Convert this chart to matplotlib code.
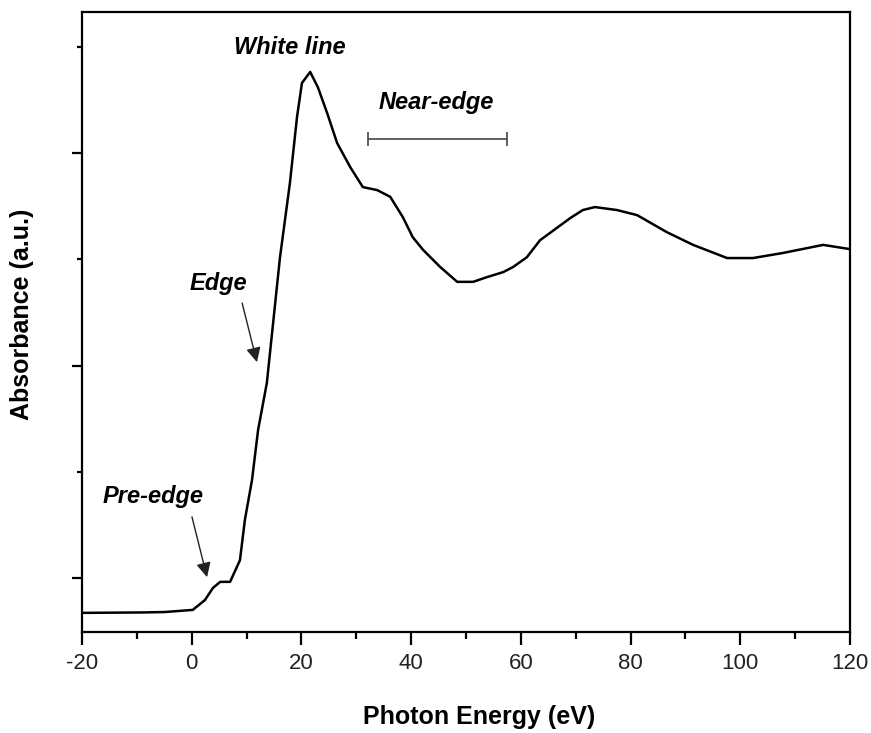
import matplotlib
matplotlib.use('Agg')
import matplotlib.pyplot as plt
from matplotlib.ticker import MultipleLocator, NullFormatter

plt.rcParams['font.family'] = ['Liberation Sans', 'DejaVu Sans']
plt.rcParams['axes.unicode_minus'] = False

# spectrum (energy in eV, absorbance in a.u.)
energy = [-20, -8.9, -4.9, 0.2, 2.4, 3.9, 5.2, 7.0, 8.8, 9.7, 11.0, 12.1, 13.7,
          16.1, 17.9, 19.2, 20.1, 21.6, 23.0, 24.7, 26.5, 28.9, 31.2, 33.8, 36.2,
          38.5, 40.3, 42.2, 45.3, 48.4, 51.3, 53.8, 56.8, 58.6, 61.1, 63.5, 65.3,
          69.0, 71.3, 73.5, 77.5, 81.2, 86.6, 91.4, 97.6, 102.3, 107.8, 115.1, 120]
absorb = [0.418, 0.419, 0.420, 0.425, 0.448, 0.477, 0.491, 0.491, 0.542, 0.637,
          0.731, 0.848, 0.959, 1.255, 1.429, 1.585, 1.665, 1.691, 1.655, 1.594,
          1.524, 1.467, 1.420, 1.413, 1.397, 1.349, 1.302, 1.272, 1.232, 1.197,
          1.197, 1.208, 1.220, 1.232, 1.255, 1.295, 1.312, 1.347, 1.366, 1.373,
          1.366, 1.354, 1.314, 1.284, 1.253, 1.253, 1.265, 1.284, 1.274]

near_edge = (32.1, 57.4)

fig = plt.figure(figsize=(8.71, 7.33), dpi=100)
ax = fig.add_axes([0.0941, 0.1378, 0.8818, 0.8458])
ax.plot(energy, absorb, color='black', lw=1.8)

ax.set_xlim(-20, 120)
ax.set_ylim(0.373, 1.832)
ax.xaxis.set_major_locator(MultipleLocator(20))
ax.xaxis.set_minor_locator(MultipleLocator(10))
ax.yaxis.set_major_locator(MultipleLocator(0.5))
ax.yaxis.set_minor_locator(MultipleLocator(0.25))
ax.yaxis.set_major_formatter(NullFormatter())
for s in ax.spines.values():
    s.set_linewidth(1.6)
ax.tick_params(axis='x', which='major', direction='out', length=9, width=1.6,
               labelsize=16, pad=6, labelcolor='#222222')
ax.tick_params(axis='x', which='minor', direction='out', length=5, width=1.6)
ax.tick_params(axis='y', which='major', direction='out', length=7, width=1.6)
ax.tick_params(axis='y', which='minor', direction='out', length=3.5, width=1.6)

ax.set_xlabel('Photon Energy (eV)', fontsize=18, fontweight='bold')
ax.set_ylabel('Absorbance (a.u.)', fontsize=18, fontweight='bold')
ax.xaxis.set_label_coords(0.517, -0.118)
ax.yaxis.set_label_coords(-0.062, 0.513)

lab = dict(fontsize=17, fontweight='bold', fontstyle='italic', ha='center', va='center')
ax.text(17.9, 1.749, 'White line', **lab)
ax.text(44.5, 1.618, 'Near-edge', **lab)
ax.text(4.8, 1.194, 'Edge', **lab)
ax.text(-7.1, 0.691, 'Pre-edge', **lab)

# near-edge range bar
ax.errorbar([sum(near_edge) / 2], [1.533], xerr=[[(near_edge[1] - near_edge[0]) / 2]],
            fmt='none', ecolor='#444444', elinewidth=1.2, capsize=5, capthick=1.2)

arrow = dict(arrowstyle='-|>', color='#222222', lw=1.0, mutation_scale=22,
             shrinkA=0, shrinkB=0)
ax.annotate('', xy=(11.9, 1.008), xytext=(9.2, 1.147), arrowprops=arrow)
ax.annotate('', xy=(2.8, 0.502), xytext=(0.05, 0.644), arrowprops=arrow)

fig.savefig('out.png', dpi=100)
